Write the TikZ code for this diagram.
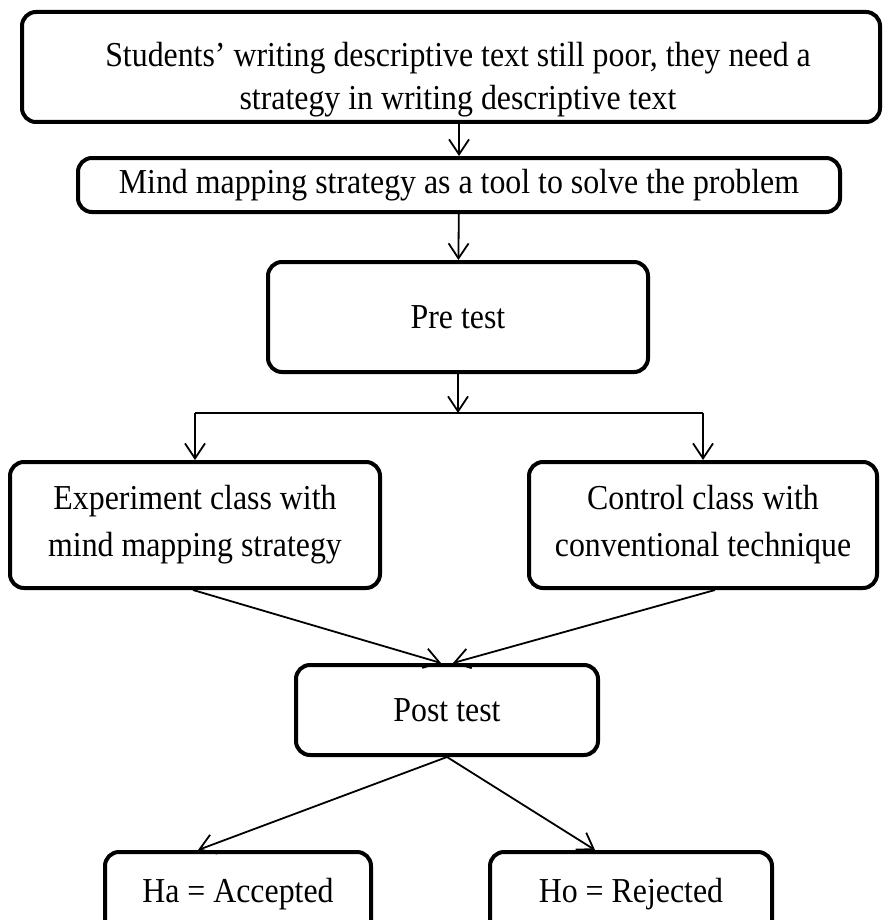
\documentclass[tikz,border=0pt]{standalone}
\usepackage{fontspec}
\setmainfont{Liberation Serif}[FakeStretch=0.91]
\usetikzlibrary{arrows.meta, positioning}

\begin{document}
\begin{tikzpicture}[
    x=0.5pt, y=-0.5pt,
    font=\fontsize{17.5}{23.5}\selectfont,
    box/.style={draw, line width=2pt, rounded corners=7pt, align=center, inner sep=0pt},
    flow/.style={-{Straight Barb[length=7.5pt, width=10pt]}, line width=0.9pt},
]
\useasboundingbox (0,0) rectangle (887,920);
\node[box, minimum width=429pt, minimum height=55pt] (prob) at (451,67) {};
\node[align=center, font=\fontsize{17.5}{21.5}\selectfont] (probtext) at (458,80)
    {Students’ writing descriptive text still poor, they need a\\strategy in writing descriptive text};
\node[box, minimum width=381pt, minimum height=27pt] (mind) at (459,185) {Mind mapping strategy as a tool to solve the problem};
\node[box, minimum width=190pt, minimum height=55pt] (pre) at (458,317) {Pre test};
\coordinate (split) at (458,413);
\node[box, minimum width=185pt, minimum height=63pt] (exp) at (195,525) {Experiment class with\\mind mapping strategy};
\node[box, minimum width=174pt, minimum height=63pt] (ctrl) at (703,525) {Control class with\\conventional technique};
\node[box, minimum width=151pt, minimum height=45pt] (post) at (447,710) {Post test};
\node[box, minimum width=133pt, minimum height=42pt] (ha) at (238,894) {Ha = Accepted};
\node[box, minimum width=141pt, minimum height=42pt] (ho) at (631,894) {Ho = Rejected};

\draw[flow] (prob.south -| mind.north) -- (mind.north);
\draw[flow] (mind) -- (pre);
\draw[flow] (pre) -- (split);
\draw[line width=0.9pt] (split -| exp.north) -- (split -| ctrl.north);
\draw[flow] (split -| exp.north) -- (exp.north);
\draw[flow] (split -| ctrl.north) -- (ctrl.north);
\draw[flow] ([xshift=-1pt]exp.south) -- ([xshift=-3pt]post.north);
\draw[flow] ([xshift=6pt]ctrl.south) -- ([xshift=3pt]post.north);
\draw[flow] (post.south) -- ([xshift=-20pt]ha.north);
\draw[flow] (post.south) -- ([xshift=-18pt]ho.north);
\end{tikzpicture}
\end{document}
